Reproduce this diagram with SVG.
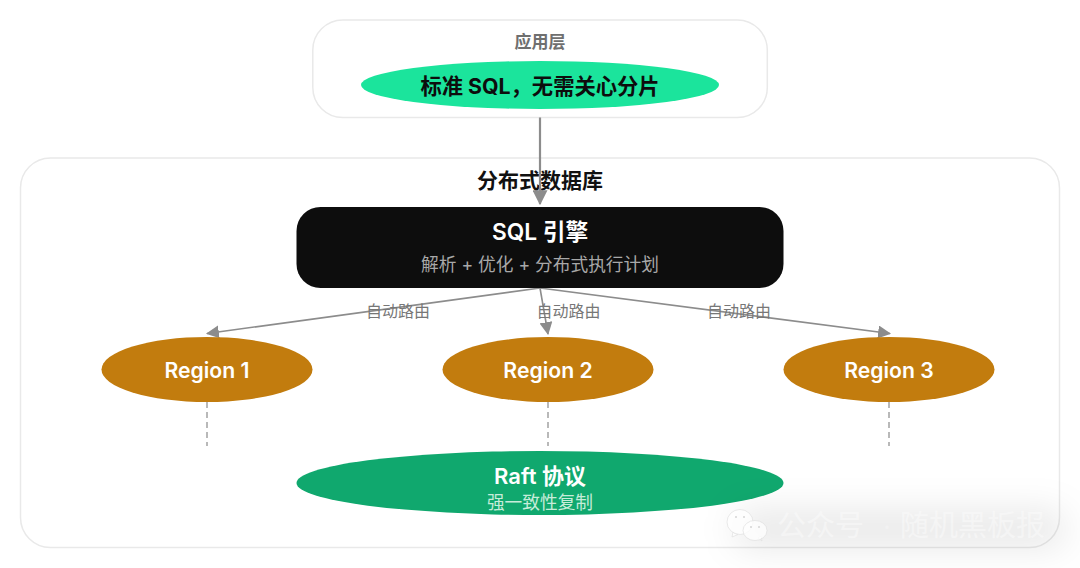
<svg xmlns="http://www.w3.org/2000/svg" width="1080" height="568" viewBox="0 0 1080 568">
<style>
text{font-family:"Inter","Noto Sans CJK SC","Noto Sans",sans-serif;text-anchor:middle}
.cjk{font-family:"Noto Sans CJK SC",sans-serif}
.box{fill:#fff;stroke:#e9e9e9;stroke-width:1.5}
.region{fill:#c27c0e}
.rt{font-size:21.200px;font-weight:600;fill:#fff}
.route{font-size:16px;fill:#777}
.edge{fill:none;stroke:#8c8c8c;stroke-width:1.6}
.dash{fill:none;stroke:#a3a3a3;stroke-width:1.5;stroke-dasharray:6 4}
.wm{font-size:29px;fill:#fff;fill-opacity:.4;text-anchor:start}
</style>
<defs>
<marker id="arrow" viewBox="0 0 12 12" refX="11" refY="6" markerWidth="13" markerHeight="13" markerUnits="userSpaceOnUse" orient="auto"><path d="M0 0L12 6L0 12Z" fill="#8c8c8c"/></marker>
<marker id="arrowBig" viewBox="0 0 12 12" refX="11" refY="6" markerWidth="15" markerHeight="15" markerUnits="userSpaceOnUse" orient="auto"><path d="M0 0L12 6L0 12Z" fill="#8c8c8c"/></marker>
<filter id="blur" x="-30%" y="-100%" width="160%" height="300%"><feGaussianBlur stdDeviation="18"/></filter>
</defs>
<rect width="1080" height="568" fill="#fff"/>
<g id="app-layer">
<rect class="box" x="312.800" y="20" width="454.500" height="97.500" rx="30"/>
<text class="cjk" x="540" y="47.800" font-size="17" font-weight="600" fill="#6f6f6f">应用层</text>
<ellipse cx="540" cy="85" rx="179" ry="24" fill="#1be49c"/>
<text x="540" y="93.500" font-size="21.300" font-weight="700" fill="#0d0d0d">标准 SQL，无需关心分片</text>
</g>
<g id="database">
<rect class="box" x="20.500" y="158" width="1039" height="389.500" rx="30"/>
<text class="cjk" x="540" y="187.500" font-size="21" font-weight="700" fill="#111">分布式数据库</text>
</g>
<g id="connectors">
<path class="edge" d="M540 117.500V204" style="stroke-width:2.200" marker-end="url(#arrowBig)"/>
<path class="edge" d="M540 288L207 333.500" marker-end="url(#arrow)"/>
<path class="edge" d="M540 288L548 334" marker-end="url(#arrow)"/>
<path class="edge" d="M540 288L890 333.500" marker-end="url(#arrow)"/>
<path class="dash" d="M207 402V446"/>
<path class="dash" d="M548 402V446"/>
<path class="dash" d="M889 402V446"/>
<text class="route cjk" x="398" y="317">自动路由</text>
<text class="route cjk" x="568.500" y="317">自动路由</text>
<text class="route cjk" x="739" y="317">自动路由</text>
</g>
<g id="sql-engine">
<rect x="296.500" y="207" width="487" height="81" rx="24" fill="#0d0d0d"/>
<text x="540" y="239.500" font-size="22.700" font-weight="600" fill="#fff">SQL 引擎</text>
<text x="540" y="271" font-size="17.700" fill="#a8a8a8">解析 + 优化 + 分布式执行计划</text>
</g>
<g id="region-1">
<ellipse class="region" cx="207" cy="369.500" rx="105.500" ry="32.500"/>
<text class="rt" x="207" y="377.500">Region 1</text>
</g>
<g id="region-2">
<ellipse class="region" cx="548" cy="369.500" rx="105.500" ry="32.500"/>
<text class="rt" x="548" y="377.500">Region 2</text>
</g>
<g id="region-3">
<ellipse class="region" cx="889" cy="369.500" rx="105.500" ry="32.500"/>
<text class="rt" x="889" y="377.500">Region 3</text>
</g>
<g id="raft">
<ellipse cx="540" cy="483" rx="243.500" ry="32" fill="#10a86e"/>
<text x="540" y="483.500" font-size="22" font-weight="600" fill="#fff">Raft 协议</text>
<text x="540" y="508.500" font-size="17.700" fill="#c6ecd9">强一致性复制</text>
</g>
<g id="watermark">
<rect x="735" y="512" width="330" height="34" rx="14" fill="#000" fill-opacity=".1" filter="url(#blur)"/>
<g fill="#fff" fill-opacity=".75" stroke="#dcdcdc" stroke-width=".6">
<path d="M733 532L732 537L738 534.500Z"/>
<ellipse cx="740" cy="522" rx="13" ry="12.500"/>
<path d="M758 538L762 541L761 536Z"/>
<ellipse cx="755" cy="530.500" rx="12" ry="10"/>
</g>
<g fill="#d8d8d8">
<circle cx="736" cy="517" r="1.100"/><circle cx="744" cy="517" r="1.100"/>
<circle cx="751" cy="527" r="1.100"/><circle cx="759" cy="527" r="1.100"/>
</g>
<text class="wm cjk" x="777" y="536">公众号</text>
<text class="wm cjk" x="879" y="533" style="font-size:16px;fill-opacity:.25">·</text>
<text class="wm cjk" x="900" y="536">随机黑板报</text>
</g>
</svg>
